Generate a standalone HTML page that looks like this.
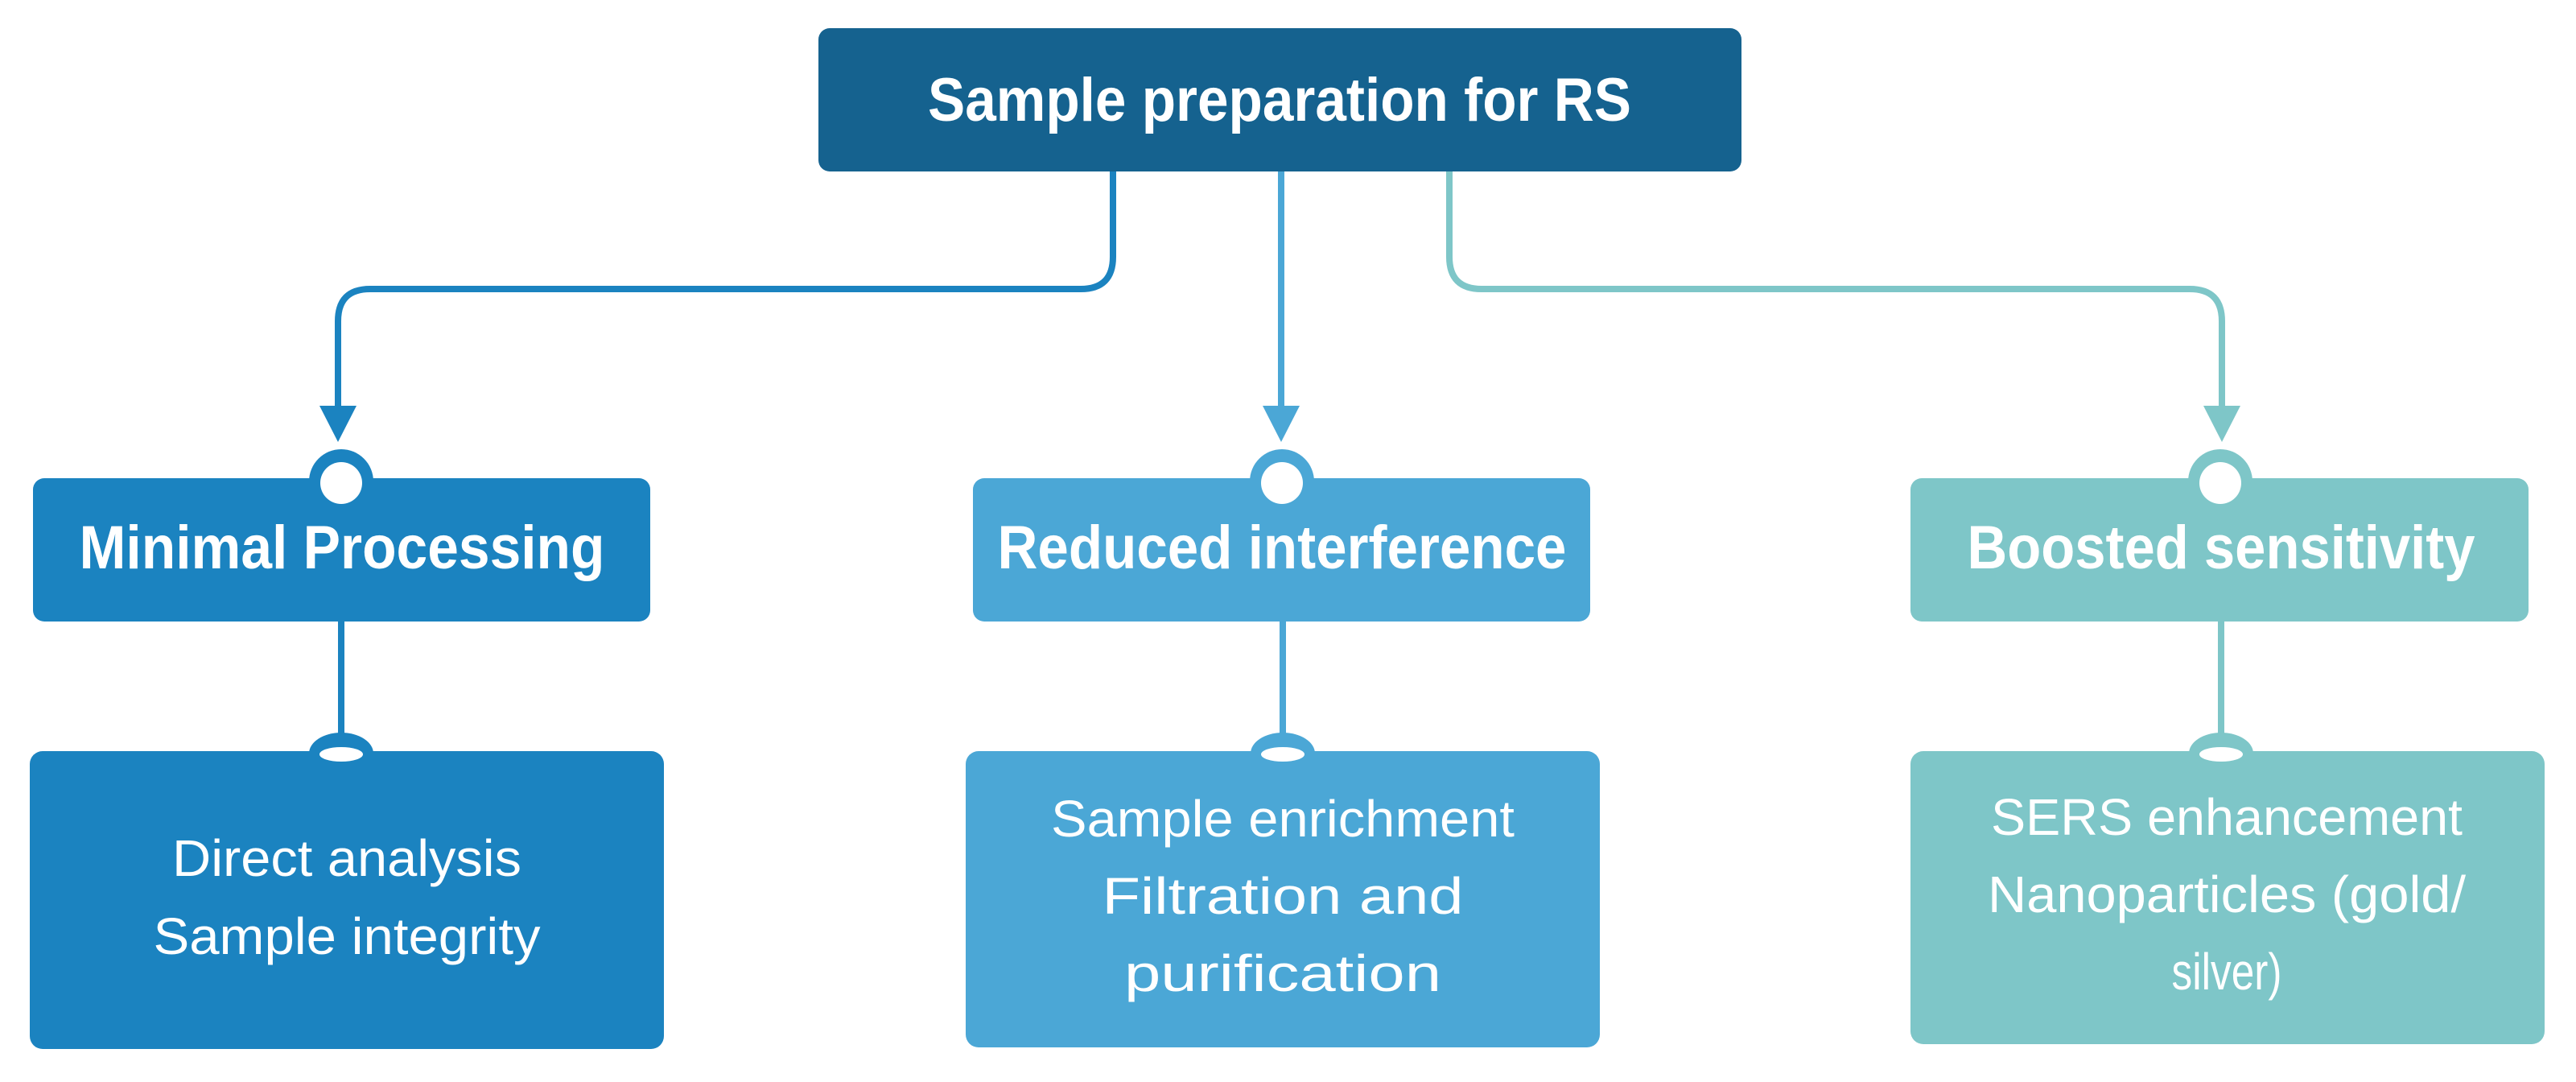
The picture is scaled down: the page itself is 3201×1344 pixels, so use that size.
<!DOCTYPE html>
<html><head><meta charset="utf-8"><style>
html,body{margin:0;padding:0;background:#fff;}
svg{display:block;}
text{font-family:"Liberation Sans",sans-serif;fill:#fff;}
.b{font-weight:bold;font-size:76px;}
.r{font-size:64px;}
</style></head><body>
<svg width="3201" height="1344" viewBox="0 0 3201 1344" xmlns="http://www.w3.org/2000/svg">
<g fill="none" stroke-width="8">
<path d="M1383 213 V319 Q1383 359 1343 359 H460 Q420 359 420 399 V510" stroke="#1B83C0"/>
<path d="M1592 213 V510" stroke="#4BA7D6"/>
<path d="M1801 213 V319 Q1801 359 1841 359 H2721 Q2761 359 2761 399 V510" stroke="#7EC6C8"/>
<path d="M424 772 V935" stroke="#1B83C0"/>
<path d="M1594 772 V935" stroke="#4BA7D6"/>
<path d="M2760 772 V935" stroke="#7EC6C8"/>
</g>
<polygon points="397,504 443,504 420,549" fill="#1B83C0"/>
<polygon points="1569,504 1615,504 1592,549" fill="#4BA7D6"/>
<polygon points="2738,504 2784,504 2761,549" fill="#7EC6C8"/>
<rect x="1017" y="35" width="1147" height="178" rx="14" fill="#15628F"/>
<text class="b" x="1590" y="150" text-anchor="middle" textLength="874" lengthAdjust="spacingAndGlyphs">Sample preparation for RS</text>
<circle cx="424" cy="598" r="40" fill="#1B83C0"/>
<rect x="41" y="594" width="767" height="178" rx="14" fill="#1B83C0"/>
<circle cx="424" cy="600" r="26" fill="#fff"/>
<text class="b" x="425" y="706" text-anchor="middle" textLength="653" lengthAdjust="spacingAndGlyphs">Minimal Processing</text>
<circle cx="1593" cy="598" r="40" fill="#4BA7D6"/>
<rect x="1209" y="594" width="767" height="178" rx="14" fill="#4BA7D6"/>
<circle cx="1593" cy="600" r="26" fill="#fff"/>
<text class="b" x="1593" y="706" text-anchor="middle" textLength="707" lengthAdjust="spacingAndGlyphs">Reduced interference</text>
<circle cx="2759" cy="598" r="40" fill="#7EC6C8"/>
<rect x="2374" y="594" width="768" height="178" rx="14" fill="#7EC6C8"/>
<circle cx="2759" cy="600" r="26" fill="#fff"/>
<text class="b" x="2760" y="706" text-anchor="middle" textLength="631" lengthAdjust="spacingAndGlyphs">Boosted sensitivity</text>
<ellipse cx="424" cy="936" rx="40" ry="26" fill="#1B83C0"/>
<rect x="37" y="933" width="788" height="370" rx="16" fill="#1B83C0"/>
<ellipse cx="424" cy="937" rx="27" ry="9" fill="#fff"/>
<text class="r" x="431" y="1088" text-anchor="middle" textLength="434" lengthAdjust="spacingAndGlyphs">Direct analysis</text>
<text class="r" x="431" y="1185" text-anchor="middle" textLength="481" lengthAdjust="spacingAndGlyphs">Sample integrity</text>
<ellipse cx="1594" cy="936" rx="40" ry="26" fill="#4BA7D6"/>
<rect x="1200" y="933" width="788" height="368" rx="16" fill="#4BA7D6"/>
<ellipse cx="1594" cy="937" rx="27" ry="9" fill="#fff"/>
<text class="r" x="1594" y="1039" text-anchor="middle" textLength="576" lengthAdjust="spacingAndGlyphs">Sample enrichment</text>
<text class="r" x="1594" y="1135" text-anchor="middle" textLength="449" lengthAdjust="spacingAndGlyphs">Filtration and</text>
<text class="r" x="1594" y="1231" text-anchor="middle" textLength="394" lengthAdjust="spacingAndGlyphs">purification</text>
<ellipse cx="2760" cy="936" rx="40" ry="26" fill="#7EC6C8"/>
<rect x="2374" y="933" width="788" height="364" rx="16" fill="#7EC6C8"/>
<ellipse cx="2760" cy="937" rx="27" ry="9" fill="#fff"/>
<text class="r" x="2767" y="1037" text-anchor="middle" textLength="586" lengthAdjust="spacingAndGlyphs">SERS enhancement</text>
<text class="r" x="2767" y="1133" text-anchor="middle" textLength="594" lengthAdjust="spacingAndGlyphs">Nanoparticles (gold/</text>
<text class="r" x="2767" y="1229" text-anchor="middle" textLength="137" lengthAdjust="spacingAndGlyphs">silver)</text>
</svg>
</body></html>
